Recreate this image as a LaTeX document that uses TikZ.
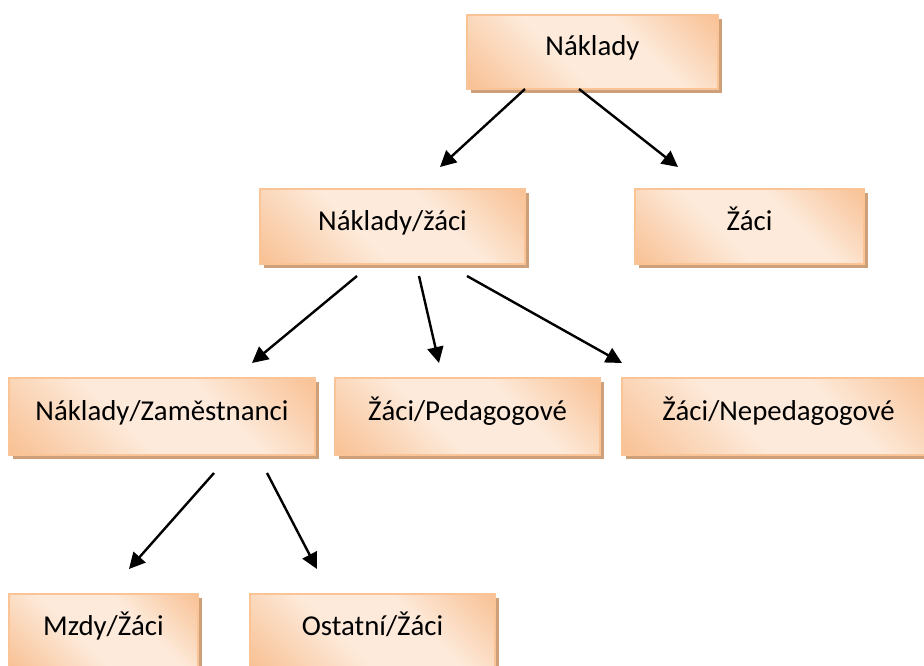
\documentclass[tikz,border=0pt]{standalone}
\usepackage{fontspec}
\setmainfont{Carlito}
\usetikzlibrary{arrows.meta,shadows}
\definecolor{pd}{RGB}{248,188,140}
\definecolor{pl}{RGB}{253,234,218}
\definecolor{pborder}{RGB}{250,196,150}
\definecolor{shc}{RGB}{205,160,122}
\pgfdeclarehorizontalshading{peachsh}{100bp}{color(0bp)=(pd); color(12bp)=(pd); color(42bp)=(pl); color(62bp)=(pl); color(88bp)=(pd); color(100bp)=(pd)}
\tikzset{
  box/.style={rectangle, inner sep=0pt, draw=pborder, line width=1.2pt,
    shading=peachsh, shading angle=45,
    general shadow={fill=shc, shadow xshift=4pt, shadow yshift=-4pt},
    font=\fontsize{28.8}{34}\selectfont, text height=18pt, text depth=11pt},
  arr/.style={-{Triangle[length=16pt,width=16pt]}, line width=2.4pt, black}
}
\begin{document}
\begin{tikzpicture}[x=1pt,y=-1pt]
\useasboundingbox (0,0) rectangle (924,666);
\begin{scope}
\clip (0,0) rectangle (924,666);
\node[box, minimum width=251pt, minimum height=74pt] (n0) at (592.5,52) {Náklady};
\node[box, minimum width=265pt, minimum height=75pt] (n1) at (392.5,226.5) {Náklady/žáci};
\node[box, minimum width=229pt, minimum height=75pt] (n2) at (749.5,226.5) {Žáci};
\node[box, minimum width=306pt, minimum height=77pt] (n3) at (162,416.5) {Náklady/Zaměstnanci};
\node[box, minimum width=265pt, minimum height=77pt] (n4) at (467.5,416.5) {Žáci/Pedagogové};
\node[box, minimum width=313pt, minimum height=77pt] (n5) at (778.5,416.5) {Žáci/Nepedagogové};
\node[box, minimum width=189pt, minimum height=75pt] (n6) at (103.5,631.5) {Mzdy/Žáci};
\node[box, minimum width=245pt, minimum height=75pt] (n7) at (372.5,631.5) {Ostatní/Žáci};
\end{scope}
\coordinate (s01) at (525,89);
\coordinate (e01) at (440,167);
\coordinate (s02) at (579,89);
\coordinate (e02) at (678,167);
\coordinate (s13) at (357,276);
\coordinate (e13) at (252,363);
\coordinate (s14) at (419,276);
\coordinate (e14) at (439,363);
\coordinate (s15) at (467,276);
\coordinate (e15) at (622,363);
\coordinate (s36) at (214,473);
\coordinate (e36) at (129,569);
\coordinate (s37) at (267,473);
\coordinate (e37) at (317,569);
\draw[arr] (s01) -- (e01);
\draw[arr] (s02) -- (e02);
\draw[arr] (s13) -- (e13);
\draw[arr] (s14) -- (e14);
\draw[arr] (s15) -- (e15);
\draw[arr] (s36) -- (e36);
\draw[arr] (s37) -- (e37);
\end{tikzpicture}
\end{document}
